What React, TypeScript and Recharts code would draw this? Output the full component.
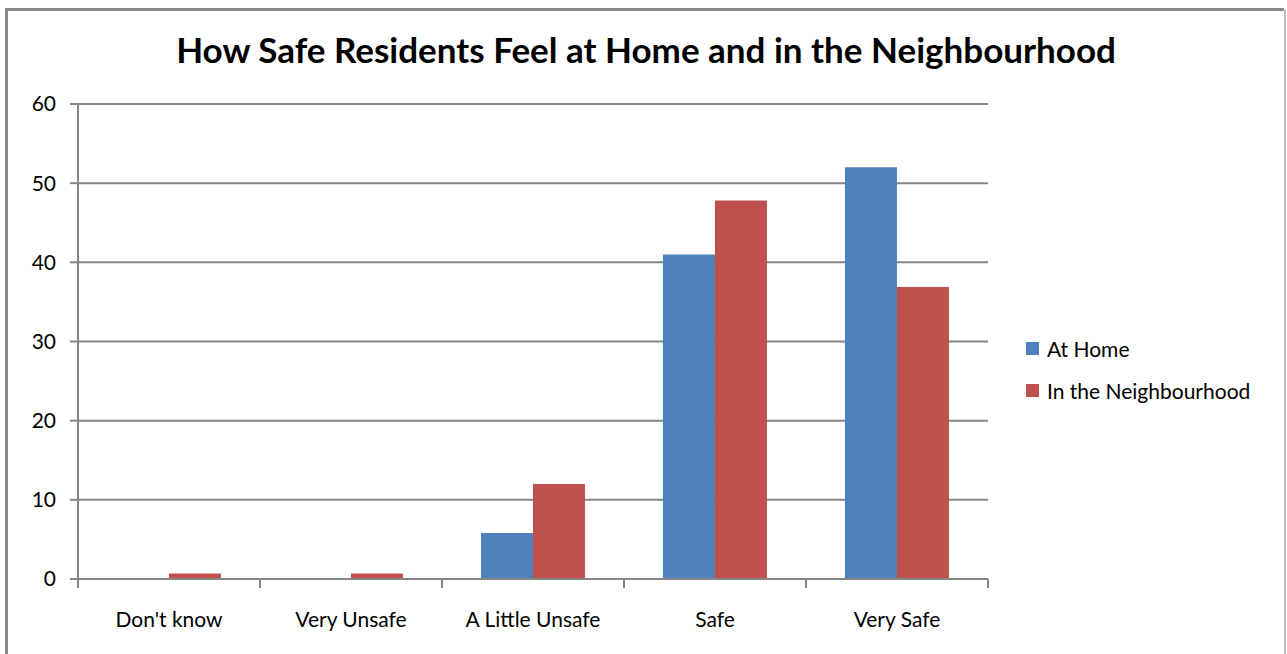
import React from "react";
import {
  BarChart,
  Bar,
  XAxis,
  YAxis,
  CartesianGrid,
  Legend,
} from "recharts";

// categorias e valores
const CATEGORIAS = ["Don't know", "Very Unsafe", "A Little Unsafe", "Safe", "Very Safe"];
const EM_CASA = [0, 0, 5.8, 41, 52];
const NO_BAIRRO = [0.7, 0.7, 12, 47.8, 36.9];
const Y_TICKS = [0, 10, 20, 30, 40, 50, 60];

const SERIES = [
  { key: "casa", nome: "At Home", cor: "#4F81BD" },
  { key: "bairro", nome: "In the Neighbourhood", cor: "#C0504D" },
];

const W = 1287;
const H = 654;
const MARGEM = { top: 104, right: 299, bottom: 0, left: 0 };
const X_H = 75;
const Y_W = 78;
const PASSO = (W - MARGEM.right - Y_W) / CATEGORIAS.length;
const FONTE = "Lato, 'Open Sans', sans-serif";
const TAM = 21;
const CINZA = "#868686";

const data = CATEGORIAS.map((c, i) => ({
  categoria: c,
  casa: EM_CASA[i],
  bairro: NO_BAIRRO[i],
}));

function TickX(props: any) {
  const { x, y, payload, index } = props;
  const esq = x - PASSO / 2;
  return (
    <g>
      <line x1={esq} x2={esq} y1={y - 8} y2={y + 1} stroke={CINZA} strokeWidth={2} />
      {index === CATEGORIAS.length - 1 && (
        <line x1={esq + PASSO} x2={esq + PASSO} y1={y - 8} y2={y + 1} stroke={CINZA} strokeWidth={2} />
      )}
      <text x={x} y={y + 40} textAnchor="middle" fill="#000" fontSize={TAM} fontFamily={FONTE}>
        {payload.value}
      </text>
    </g>
  );
}

function Legenda() {
  return (
    <div style={{ fontFamily: FONTE, fontSize: TAM, color: "#000" }}>
      {SERIES.map((s) => (
        <div key={s.key} style={{ display: "flex", alignItems: "center", height: 42 }}>
          <span
            style={{ display: "inline-block", width: 13, height: 13, background: s.cor, marginRight: 8 }}
          />
          {s.nome}
        </div>
      ))}
    </div>
  );
}

export default function App() {
  return (
    <div style={{ position: "absolute", left: 0, top: 0, width: W, height: H, overflow: "hidden", background: "#fff" }}>
      <div
        style={{
          position: "absolute",
          left: 0,
          width: 1292,
          top: 28,
          textAlign: "center",
          fontFamily: FONTE,
          fontWeight: 700,
          fontSize: 35,
          color: "#000",
        }}
      >
        How Safe Residents Feel at Home and in the Neighbourhood
      </div>
      <BarChart
        width={W}
        height={H}
        data={data}
        margin={MARGEM}
        barGap={0}
        barCategoryGap="21.4%"
      >
        <CartesianGrid vertical={false} stroke={CINZA} strokeWidth={2} />
        <XAxis
          dataKey="categoria"
          height={X_H}
          axisLine={{ stroke: CINZA, strokeWidth: 2 }}
          tickLine={false}
          tick={<TickX />}
          interval={0}
        />
        <YAxis
          width={Y_W}
          domain={[0, 60]}
          ticks={Y_TICKS}
          axisLine={{ stroke: CINZA, strokeWidth: 2 }}
          tickLine={{ stroke: CINZA, strokeWidth: 2 }}
          tickSize={8}
          tickMargin={14}
          tick={{ fill: "#000", fontSize: TAM, fontFamily: FONTE }}
        />
        <Legend
          layout="horizontal"
          verticalAlign="middle"
          align="center"
          content={<Legenda />}
          wrapperStyle={{ position: "absolute", left: 1026, top: 327, width: 260 }}
        />
        {SERIES.map((s) => (
          <Bar key={s.key} dataKey={s.key} name={s.nome} fill={s.cor} isAnimationActive={false} />
        ))}
      </BarChart>
      <svg
        width={W}
        height={H}
        style={{ position: "absolute", left: 0, top: 0, zIndex: 5, pointerEvents: "none" }}
      >
        <path d="M6.5,660 L6.5,9.5 L1284,9.5" fill="none" stroke="#8c8c8c" strokeWidth={3} />
        <path d="M1285,9.5 L1285,660" fill="none" stroke="#bdbdbd" strokeWidth={2} />
      </svg>
    </div>
  );
}
